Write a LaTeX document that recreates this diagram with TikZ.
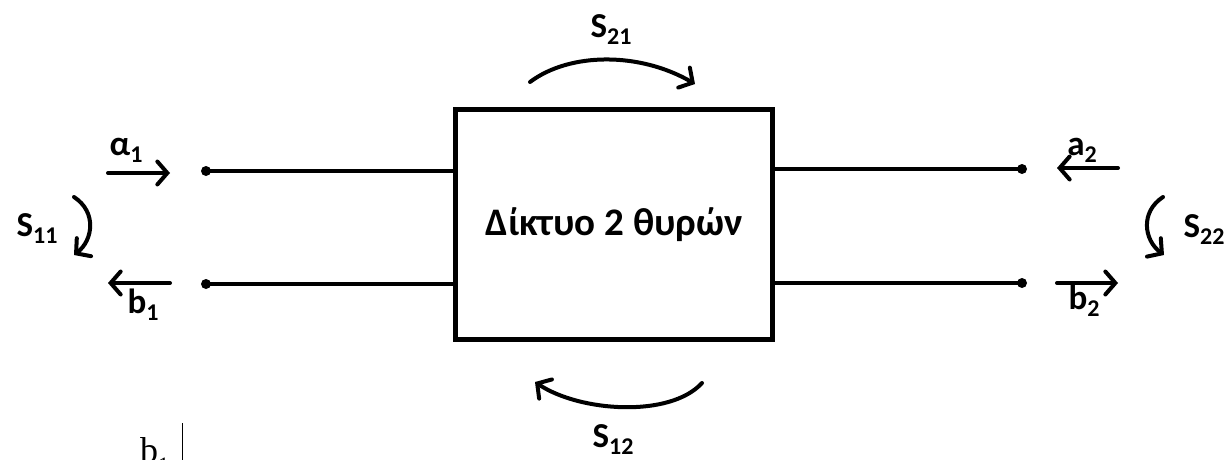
\documentclass[tikz,border=0pt]{standalone}
\usepackage{fontspec}
\setmainfont{Carlito}
\newfontfamily\serifb{Liberation Serif}
\usetikzlibrary{arrows.meta}
\newcommand\lsub[1]{\raisebox{-0.2em}{\fontsize{24}{24}\selectfont #1}}
\begin{document}
\begin{tikzpicture}[x=1pt,y=-1pt,
  lbl/.style={font=\fontsize{35}{38}\selectfont\bfseries, inner sep=0pt},
  wire/.style={line width=4pt},
  arr/.style={line width=4pt, line cap=round, -{Straight Barb[length=10pt,width=23pt,line cap=round]}},
  tdot/.style={circle, fill, inner sep=0pt, minimum size=10pt},
  netbox/.style={draw, line width=5pt, minimum width=317pt, minimum height=230pt, inner sep=0pt,
    font=\fontsize{39}{42}\selectfont\bfseries}]
\useasboundingbox (0,0) rectangle (1226,460);
\node[netbox] (box) at (614,224.5) {Δίκτυο 2 θυρών};
% terminals
\node[tdot] (l1) at (206,171) {};
\node[tdot] (l2) at (206,284) {};
\node[tdot] (r1) at (1022,169) {};
\node[tdot] (r2) at (1022,283) {};
\draw[wire] (l1.center) -- (l1 -| box.west);
\draw[wire] (l2.center) -- (l2 -| box.west);
\draw[wire] (r1.center) -- (r1 -| box.east);
\draw[wire] (r2.center) -- (r2 -| box.east);
% port 1 waves
\coordinate (a1s) at (108,173);
\coordinate (a1e) at (170,173);
\coordinate (b1s) at (170,283);
\coordinate (b1e) at (108,283);
\draw[arr] (a1s) -- (a1e);
\draw[arr] (b1s) -- (b1e);
\node[lbl] (la1) at (126,150) {α\lsub{1}};
\node[lbl] (lb1) at (143,305) {b\lsub{1}};
\coordinate (s11s) at (74,197);
\coordinate (s11e) at (74,255);
\draw[arr] (s11s) .. controls (97,212) and (93,240) .. (s11e);
\node[lbl] (ls11) at (37,229) {S\lsub{11}};
% port 2 waves
\coordinate (a2s) at (1118,168);
\coordinate (a2e) at (1057,168);
\coordinate (b2s) at (1057,283);
\coordinate (b2e) at (1118,283);
\draw[arr] (a2s) -- (a2e);
\draw[arr] (b2s) -- (b2e);
\node[lbl] (la2) at (1082,150) {a\lsub{2}};
\node[lbl] (lb2) at (1084,301) {b\lsub{2}};
\coordinate (s22s) at (1163,197);
\coordinate (s22e) at (1164,255);
\draw[arr] (s22s) .. controls (1140,212) and (1144,240) .. (s22e);
\node[lbl] (ls22) at (1204,230) {S\lsub{22}};
% transmission
\coordinate (s21s) at (530,82);
\coordinate (s21e) at (695,84);
\draw[arr] (s21s) .. controls (570,52) and (640,52) .. (s21e);
\node[lbl] (ls21) at (611,30) {S\lsub{21}};
\coordinate (s12s) at (702,383);
\coordinate (s12e) at (535,382);
\draw[arr] (s12s) .. controls (670,418) and (580,412) .. (s12e);
\node[lbl] (ls12) at (613,440) {S\lsub{12}};
% stray fragment at bottom left
\node[font=\serifb\fontsize{36}{36}\selectfont, inner sep=0pt, anchor=base west] (frag) at (140,462) {b\raisebox{-0.3em}{\fontsize{22}{22}\selectfont 1}};
\coordinate (bar1) at (182,423);
\coordinate (bar2) at (182,460);
\draw[line width=1pt] (bar1) -- (bar2);
\end{tikzpicture}
\end{document}
